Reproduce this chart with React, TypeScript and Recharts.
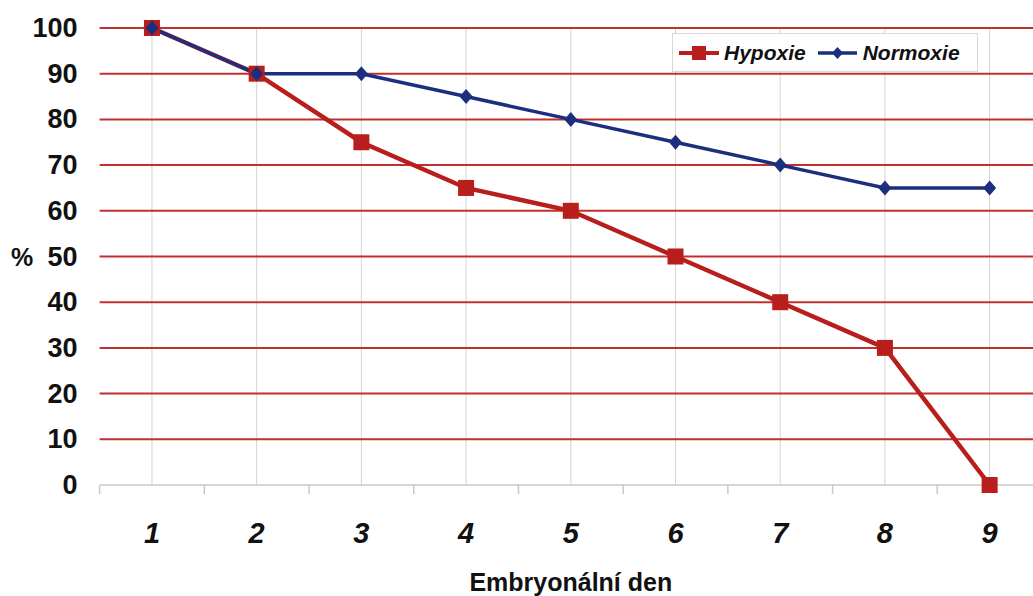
import { LineChart, Line, XAxis, YAxis, CartesianGrid } from "recharts";

// Embryonální den / přežití (%)
const days = [1, 2, 3, 4, 5, 6, 7, 8, 9];
const hypoxie = [100, 90, 75, 65, 60, 50, 40, 30, 0];
const normoxie = [100, 90, 90, 85, 80, 75, 70, 65, 65];
const yTicks = [0, 10, 20, 30, 40, 50, 60, 70, 80, 90, 100];

const RED = "#b81e1c";
const BLUE = "#1b2f7e";
const GRID_RED = "#c0302e";
const FONT = "'Liberation Sans', Arial, sans-serif";

const data = days.map((d, i) => ({ day: d, hypoxie: hypoxie[i], normoxie: normoxie[i] }));
// tick marks sit between the days, labels on the days
const xTicks = [days[0] - 0.5, ...days.flatMap((d) => [d, d + 0.5])];

const SquareDot = (props: any) => {
  const { cx, cy, index } = props;
  return <rect key={`sq-${index}`} x={cx - 8} y={cy - 8} width={16} height={16} fill={RED} />;
};

const DiamondDot = (props: any) => {
  const { cx, cy, index } = props;
  return (
    <path
      key={`dm-${index}`}
      d={`M${cx},${cy - 7.5} L${cx + 6.5},${cy} L${cx},${cy + 7.5} L${cx - 6.5},${cy} Z`}
      fill={BLUE}
    />
  );
};

const XTick = (props: any) => {
  const { x, y, payload } = props;
  if (Number.isInteger(payload.value)) {
    return (
      <text
        x={x}
        y={y + 48}
        textAnchor="middle"
        dominantBaseline="central"
        fontFamily={FONT}
        fontSize={29}
        fontWeight="bold"
        fontStyle="italic"
        fill="#111"
      >
        {payload.value}
      </text>
    );
  }
  return <line x1={x} y1={y} x2={x} y2={y + 9} stroke="#c8c8c8" strokeWidth={1.5} />;
};

const YTick = (props: any) => {
  const { x, y, payload } = props;
  return (
    <text
      x={x - 22}
      y={y}
      textAnchor="end"
      dominantBaseline="central"
      fontFamily={FONT}
      fontSize={27}
      fontWeight="bold"
      fill="#111"
    >
      {payload.value}
    </text>
  );
};

export default function App() {
  return (
    <div
      style={{
        position: "absolute",
        left: 0,
        top: 0,
        width: 1033,
        height: 596,
        overflow: "hidden",
        background: "#fff",
      }}
    >
      <LineChart width={1042} height={596} data={data} margin={{ top: 28, right: 0, left: 0, bottom: 0 }}>
        <CartesianGrid horizontal={false} verticalValues={days} stroke="#d4d4d4" strokeWidth={1} />
        <CartesianGrid vertical={false} horizontalValues={yTicks.slice(1)} stroke={GRID_RED} strokeWidth={2} />
        <XAxis
          dataKey="day"
          type="number"
          domain={[0.5, 9.5]}
          ticks={xTicks}
          interval={0}
          height={111}
          tickLine={false}
          tickSize={0}
          tickMargin={0}
          axisLine={{ stroke: "#c8c8c8", strokeWidth: 1.5 }}
          tick={<XTick />}
          label={{
            content: ({ viewBox }: any) => (
              <text
                x={viewBox.x + viewBox.width / 2}
                y={viewBox.y + 97}
                textAnchor="middle"
                dominantBaseline="central"
                fontFamily={FONT}
                fontSize={25}
                fontWeight="bold"
                fill="#111"
              >
                Embryonální den
              </text>
            ),
          }}
        />
        <YAxis
          domain={[0, 100]}
          ticks={yTicks}
          interval={0}
          width={99.6}
          axisLine={false}
          tickLine={false}
          tickSize={0}
          tickMargin={0}
          tick={<YTick />}
          label={{
            content: ({ viewBox }: any) => (
              <text
                x={22}
                y={viewBox.y + viewBox.height / 2}
                textAnchor="middle"
                dominantBaseline="central"
                fontFamily={FONT}
                fontSize={25}
                fontWeight="bold"
                fill="#111"
              >
                %
              </text>
            ),
          }}
        />
        <Line
          type="linear"
          dataKey="hypoxie"
          stroke={RED}
          strokeWidth={4.5}
          dot={<SquareDot />}
          activeDot={false}
          isAnimationActive={false}
        />
        <Line
          type="linear"
          dataKey="normoxie"
          stroke={BLUE}
          strokeWidth={3.5}
          dot={<DiamondDot />}
          activeDot={false}
          isAnimationActive={false}
        />
      </LineChart>
      <div
        style={{
          position: "absolute",
          left: 672,
          top: 33,
          width: 304,
          height: 37,
          border: "1px solid #d8d8d8",
          background: "#fff",
          display: "flex",
          alignItems: "center",
          fontFamily: FONT,
          fontWeight: "bold",
          fontStyle: "italic",
          fontSize: 21,
          color: "#111",
          boxSizing: "content-box",
        }}
      >
        <svg width={40} height={20} style={{ marginLeft: 6 }}>
          <line x1={0} y1={10} x2={40} y2={10} stroke={RED} strokeWidth={4} />
          <rect x={13} y={3} width={14} height={14} fill={RED} />
        </svg>
        <span style={{ marginLeft: 5 }}>Hypoxie</span>
        <svg width={39} height={20} style={{ marginLeft: 12 }}>
          <line x1={0} y1={10} x2={39} y2={10} stroke={BLUE} strokeWidth={3.5} />
          <path d="M19.5,4 L25,10 L19.5,16 L14,10 Z" fill={BLUE} />
        </svg>
        <span style={{ marginLeft: 6 }}>Normoxie</span>
      </div>
    </div>
  );
}
